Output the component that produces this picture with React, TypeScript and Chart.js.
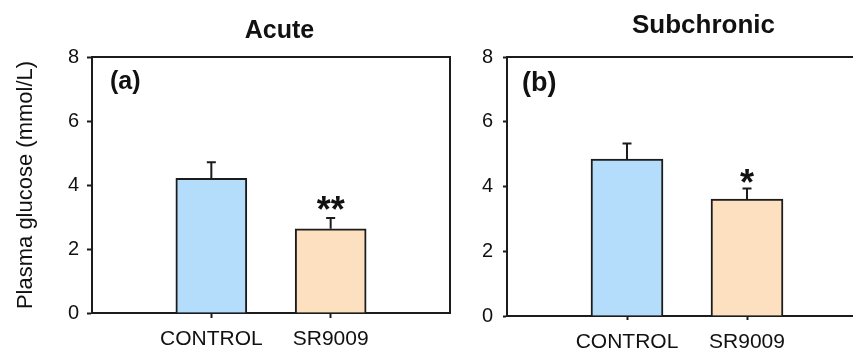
import React, { useEffect, useRef } from 'react';
import { Chart, registerables } from 'chart.js';

Chart.register(...registerables);

const FONT = '"Liberation Sans", Arial, Helvetica, sans-serif';

// ---- data ----
const categories = ['CONTROL', 'SR9009'];
const acuteMeans = [4.21, 2.63];
const acuteErrors = [0.5, 0.34];
const acuteMarks = ['', '**'];
const subchronicMeans = [4.85, 3.61];
const subchronicErrors = [0.48, 0.33];
const subchronicMarks = ['', '*'];
const yMin = 0;
const yMax = 8;
const yStep = 2;
const yAxisTitle = 'Plasma glucose (mmol/L)';
const panelTitles = ['Acute', 'Subchronic'];
const panelLabels = ['(a)', '(b)'];
const barColors = ['#b3ddfb', '#fde0c0'];

type PanelProps = {
  title: string;
  panelLabel: string;
  means: number[];
  errors: number[];
  marks: string[];
  pageLeft: number;
  canvasWidth: number;
  yAxisWidth: number;
  xAxisHeight: number;
  padRight: number;
  showYTitle: boolean;
  titleFontSize: number;
  titleX: number;
  titleBaseline: number;
  labelFontSize: number;
  labelX: number;
  labelBaseline: number;
  tickLen: number;
  tickPad: number;
  xLabelPad: number;
  barThickness: number;
  markGap: number;
};

function Panel(p: PanelProps) {
  const ref = useRef<HTMLCanvasElement | null>(null);

  useEffect(() => {
    if (!ref.current) return;
    const labels = ['', ...categories, ''];
    const values = [null, ...p.means, null];
    const errs = [null, ...p.errors, null];
    const marks = ['', ...p.marks, ''];
    const fills = ['rgba(0,0,0,0)', ...barColors, 'rgba(0,0,0,0)'];
    const dark = '#1c1c1c';

    const decor = {
      id: 'decor' + p.panelLabel,
      afterDatasetsDraw(chart: any) {
        const ctx = chart.ctx;
        const area = chart.chartArea;
        const yScale = chart.scales.y;
        const meta = chart.getDatasetMeta(0);
        ctx.save();
        // error bars + significance marks
        meta.data.forEach((bar: any, i: number) => {
          const v = values[i];
          const e = errs[i];
          if (v == null || e == null) return;
          const x = bar.x;
          const yTop = yScale.getPixelForValue(v + e);
          const yBar = yScale.getPixelForValue(v);
          ctx.strokeStyle = dark;
          ctx.lineWidth = 2;
          ctx.beginPath();
          ctx.moveTo(x, yBar);
          ctx.lineTo(x, yTop);
          ctx.moveTo(x - 4.5, yTop);
          ctx.lineTo(x + 4.5, yTop);
          ctx.stroke();
          const m = marks[i];
          if (m) {
            ctx.font = `bold 36px ${FONT}`;
            ctx.fillStyle = '#111';
            ctx.textAlign = 'center';
            ctx.textBaseline = 'alphabetic';
            const tm = ctx.measureText(m);
            const asc = tm.actualBoundingBoxAscent;
            const desc = tm.actualBoundingBoxDescent;
            const centerY = yTop - p.markGap;
            ctx.fillText(m, x, centerY + (asc - desc) / 2);
          }
        });
        // frame
        ctx.strokeStyle = dark;
        ctx.lineWidth = 2;
        ctx.beginPath();
        ctx.moveTo(area.left, area.top);
        ctx.lineTo(area.right, area.top);
        ctx.lineTo(area.right, area.bottom);
        ctx.stroke();
        // panel title and label
        ctx.fillStyle = '#111';
        ctx.textBaseline = 'alphabetic';
        ctx.textAlign = 'center';
        ctx.font = `bold ${p.titleFontSize}px ${FONT}`;
        ctx.fillText(p.title, p.titleX, p.titleBaseline);
        ctx.textAlign = 'left';
        ctx.font = `bold ${p.labelFontSize}px ${FONT}`;
        ctx.fillText(p.panelLabel, p.labelX, p.labelBaseline);
        ctx.restore();
      },
    };

    const chart = new Chart(ref.current, {
      type: 'bar',
      data: {
        labels,
        datasets: [
          {
            data: values as any,
            backgroundColor: fills,
            borderColor: dark,
            borderWidth: 2,
            barThickness: p.barThickness,
          },
        ],
      },
      options: {
        responsive: false,
        animation: false,
        devicePixelRatio: 1,
        layout: { padding: { top: 57, right: p.padRight, left: 0, bottom: 0 } },
        plugins: {
          legend: { display: false },
          tooltip: { enabled: false },
          title: { display: false },
        },
        scales: {
          x: {
            type: 'category',
            offset: false,
            afterFit: (s: any) => {
              s.height = p.xAxisHeight;
            },
            grid: {
              display: true,
              drawOnChartArea: false,
              offset: false,
              tickLength: p.tickLen,
              tickWidth: 2,
              tickColor: (c: any) =>
                c.index === 0 || c.index === labels.length - 1 ? 'rgba(0,0,0,0)' : dark,
            },
            border: { display: true, color: dark, width: 2 },
            ticks: {
              autoSkip: false,
              maxRotation: 0,
              minRotation: 0,
              padding: p.xLabelPad,
              color: '#111',
              font: { family: FONT, size: 21 },
            },
          },
          y: {
            min: yMin,
            max: yMax,
            afterFit: (s: any) => {
              s.width = p.yAxisWidth;
            },
            grid: {
              display: true,
              drawOnChartArea: false,
              tickLength: p.tickLen,
              tickWidth: 2,
              tickColor: dark,
            },
            border: { display: true, color: dark, width: 2 },
            ticks: {
              stepSize: yStep,
              padding: p.tickPad,
              color: '#111',
              font: { family: FONT, size: 20 },
            },
            title: {
              display: p.showYTitle,
              text: yAxisTitle,
              color: '#111',
              font: { family: FONT, size: 22 },
              padding: { top: 13, bottom: 0 },
            },
          },
        },
      },
      plugins: [decor],
    });
    return () => chart.destroy();
  }, []);

  return (
    <canvas
      ref={ref}
      width={p.canvasWidth}
      height={354}
      style={{
        position: 'absolute',
        left: p.pageLeft,
        top: 0,
        width: p.canvasWidth,
        height: 354,
      }}
    />
  );
}

export default function App() {
  return (
    <div
      style={{
        position: 'absolute',
        left: 0,
        top: 0,
        width: 853,
        height: 354,
        overflow: 'hidden',
        background: '#fff',
      }}
    >
      <Panel
        title={panelTitles[0]}
        panelLabel={panelLabels[0]}
        means={acuteMeans}
        errors={acuteErrors}
        marks={acuteMarks}
        pageLeft={0}
        canvasWidth={460}
        yAxisWidth={92}
        xAxisHeight={41}
        padRight={10}
        showYTitle={true}
        titleFontSize={25}
        titleX={279.5}
        titleBaseline={38}
        labelFontSize={25}
        labelX={110}
        labelBaseline={89}
        tickLen={5}
        tickPad={8}
        xLabelPad={9}
        barThickness={71}
        markGap={15}
      />
      <Panel
        title={panelTitles[1]}
        panelLabel={panelLabels[1]}
        means={subchronicMeans}
        errors={subchronicErrors}
        marks={subchronicMarks}
        pageLeft={430}
        canvasWidth={450}
        yAxisWidth={77}
        xAxisHeight={38}
        padRight={13}
        showYTitle={false}
        titleFontSize={26}
        titleX={273.5}
        titleBaseline={33}
        labelFontSize={27}
        labelX={92}
        labelBaseline={91}
        tickLen={4}
        tickPad={10}
        xLabelPad={10}
        barThickness={72}
        markGap={12}
      />
    </div>
  );
}
